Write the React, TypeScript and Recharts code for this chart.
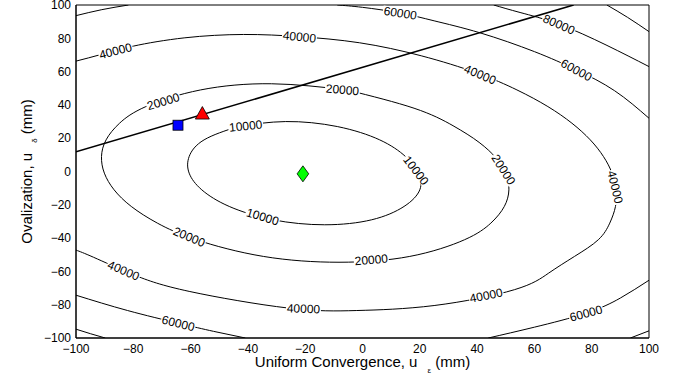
import { ScatterChart, Scatter, XAxis, YAxis, ReferenceArea } from "recharts";

type Pt = { x: number; y: number };

const WIDTH = 678;
const HEIGHT = 381;
const MARGIN = { top: 5, right: 29, bottom: 13, left: 6 };
const Y_AXIS_W = 70;
const X_AXIS_H = 30;
const PLOT_W = WIDTH - MARGIN.left - MARGIN.right - Y_AXIS_W;
const PLOT_H = HEIGHT - MARGIN.top - MARGIN.bottom - X_AXIS_H;
const KX = PLOT_W / 200;
const KY = PLOT_H / 200;
const FONT = "'Liberation Sans', Arial, Helvetica, sans-serif";

const TICKS = [-100, -80, -60, -40, -20, 0, 20, 40, 60, 80, 100];

// contour lines
const c10000: Pt[] = [
  { x: -43.5, y: 27 }, { x: -26.8, y: 30 }, { x: -8.8, y: 27 }, { x: 6, y: 19 },
  { x: 15, y: 9 }, { x: 19.5, y: -1 }, { x: 20, y: -11 }, { x: 14.5, y: -21 },
  { x: 3.2, y: -29 }, { x: -13.2, y: -32 }, { x: -31.2, y: -29 }, { x: -46.5, y: -21 },
  { x: -56.1, y: -11 }, { x: -60.5, y: -1 }, { x: -60.5, y: 9 }, { x: -55.3, y: 19 },
  { x: -43.5, y: 27 },
];

const c20000: Pt[] = [
  { x: -5.4, y: 49 }, { x: 18, y: 38 }, { x: 31.6, y: 27.5 }, { x: 40.7, y: 17.5 },
  { x: 46.7, y: 8 }, { x: 50.1, y: -1 }, { x: 51.1, y: -11 }, { x: 49.5, y: -21 },
  { x: 44.8, y: -31 }, { x: 35.6, y: -41 }, { x: 16.5, y: -51 }, { x: -8.2, y: -54.5 },
  { x: -34.6, y: -51 }, { x: -58, y: -41 }, { x: -71.6, y: -31 }, { x: -80.7, y: -21 },
  { x: -86.7, y: -11 }, { x: -90.1, y: -1 }, { x: -91.1, y: 9 }, { x: -89.5, y: 19 },
  { x: -84.8, y: 29 }, { x: -75.6, y: 39 }, { x: -56.5, y: 49 }, { x: -31.8, y: 52.7 },
  { x: -5.4, y: 49 },
];

const c40000: Pt[] = [
  { x: -100, y: 66.3 }, { x: -91.2, y: 70.3 }, { x: -80, y: 75.3 }, { x: -62, y: 80.3 },
  { x: -41.5, y: 82.3 }, { x: -22, y: 81 }, { x: -1, y: 77.3 }, { x: 20.5, y: 69.5 },
  { x: 39.9, y: 59.2 }, { x: 53.9, y: 49 }, { x: 64.7, y: 39 }, { x: 73.1, y: 29 },
  { x: 79.5, y: 19 }, { x: 84.1, y: 9 }, { x: 87.1, y: -1 }, { x: 88.5, y: -11 },
  { x: 88.3, y: -21 }, { x: 86.3, y: -31 }, { x: 82.3, y: -41 }, { x: 74, y: -51 },
  { x: 65, y: -61 }, { x: 53, y: -71 }, { x: 25, y: -80.5 }, { x: -2, y: -83.5 },
  { x: -26, y: -82 }, { x: -60.5, y: -72 }, { x: -79.9, y: -62 }, { x: -93.9, y: -51.5 },
  { x: -100, y: -47.2 },
];

const c60000TopLeft: Pt[] = [{ x: -100, y: 93.6 }, { x: -91, y: 97.2 }, { x: -81.7, y: 100 }];
const c60000TopRight: Pt[] = [
  { x: -8.8, y: 100 }, { x: 0, y: 98.6 }, { x: 13.2, y: 95.2 }, { x: 25, y: 90.5 },
  { x: 41, y: 83.3 }, { x: 60, y: 72 }, { x: 74.7, y: 61 }, { x: 88, y: 48.5 },
  { x: 100, y: 32 },
];
const c60000BottomLeft: Pt[] = [
  { x: -100, y: -74.3 }, { x: -82, y: -83.5 }, { x: -64.3, y: -91.1 }, { x: -52, y: -96 },
  { x: -40.9, y: -100 },
];
const c60000BottomRight: Pt[] = [
  { x: 43.9, y: -100 }, { x: 60, y: -93.5 }, { x: 78, y: -85.1 }, { x: 90, y: -76 },
  { x: 100, y: -65.3 },
];
const c80000TopRight: Pt[] = [
  { x: 45.8, y: 100 }, { x: 55, y: 95.5 }, { x: 68.5, y: 88.5 }, { x: 85, y: 76 },
  { x: 100, y: 63 },
];
const c80000BottomLeft: Pt[] = [{ x: -100, y: -94.7 }, { x: -95, y: -97.4 }, { x: -89.8, y: -100 }];
const c80000BottomRight: Pt[] = [{ x: 93.5, y: -100 }, { x: 100, y: -95.7 }];
const c100000TopRight: Pt[] = [{ x: 85.3, y: 100 }, { x: 92.5, y: 92.6 }, { x: 100, y: 84 }];

const contours = [
  { level: 10000, points: c10000 },
  { level: 20000, points: c20000 },
  { level: 40000, points: c40000 },
  { level: 60000, points: c60000TopLeft },
  { level: 60000, points: c60000TopRight },
  { level: 60000, points: c60000BottomLeft },
  { level: 60000, points: c60000BottomRight },
  { level: 80000, points: c80000TopRight },
  { level: 80000, points: c80000BottomLeft },
  { level: 80000, points: c80000BottomRight },
  { level: 100000, points: c100000TopRight },
];

const contourLabels = [
  { level: 40000, x: -86.3, y: 73 },
  { level: 40000, x: -22, y: 80.9 },
  { level: 20000, x: -69.8, y: 43.5 },
  { level: 10000, x: -40.8, y: 27.9 },
  { level: 20000, x: -7, y: 48.9 },
  { level: 60000, x: 13.2, y: 95.2 },
  { level: 80000, x: 68.7, y: 88.9 },
  { level: 40000, x: 41.1, y: 58.5 },
  { level: 60000, x: 74.7, y: 60.9 },
  { level: 10000, x: 17.8, y: -0.5 },
  { level: 20000, x: 48.2, y: 0 },
  { level: 40000, x: 88.3, y: -9.3 },
  { level: 10000, x: -34.9, y: -27.4 },
  { level: 20000, x: -60.7, y: -40 },
  { level: 40000, x: -83.5, y: -59.9 },
  { level: 60000, x: -64.3, y: -91.1 },
  { level: 40000, x: -20.6, y: -82.7 },
  { level: 20000, x: 3.1, y: -53.8 },
  { level: 40000, x: 43.2, y: -74.9 },
  { level: 60000, x: 78, y: -85.1 },
];

const constraintLine: Pt[] = [{ x: -100, y: 11.8 }, { x: 73.7, y: 100 }];
const squarePoint: Pt[] = [{ x: -64.4, y: 27.8 }];
const trianglePoint: Pt[] = [{ x: -55.9, y: 35.1 }];
const diamondPoint: Pt[] = [{ x: -20.8, y: -1.4 }];

const fmt = (v: number) => String(v).replace("-", "\u2212");

// snap a label onto its contour and take the contour direction (screen space)
function fitToContour(level: number, x: number, y: number) {
  const px = x * KX;
  const py = -y * KY;
  let best = { d: Infinity, ox: 0, oy: 0, angle: 0 };
  contours
    .filter((c) => c.level === level)
    .forEach((c) => {
      for (let i = 0; i < c.points.length - 1; i++) {
        const ax = c.points[i].x * KX;
        const ay = -c.points[i].y * KY;
        const bx = c.points[i + 1].x * KX;
        const by = -c.points[i + 1].y * KY;
        const dx = bx - ax;
        const dy = by - ay;
        const len2 = dx * dx + dy * dy || 1;
        let t = ((px - ax) * dx + (py - ay) * dy) / len2;
        t = Math.max(0, Math.min(1, t));
        const qx = ax + t * dx;
        const qy = ay + t * dy;
        const d = (qx - px) ** 2 + (qy - py) ** 2;
        if (d < best.d) {
          best = { d, ox: qx - px, oy: qy - py, angle: (Math.atan2(dy, dx) * 180) / Math.PI };
        }
      }
    });
  let a = best.angle;
  if (a > 90) a -= 180;
  if (a < -90) a += 180;
  return { ox: best.ox, oy: best.oy, angle: a };
}

const NoDot = () => <g />;

function ContourLabel(props: any) {
  const { cx, cy, payload } = props;
  if (cx == null || cy == null) return <g />;
  const fit = fitToContour(payload.level, payload.x, payload.y);
  return (
    <g transform={`translate(${cx + fit.ox},${cy + fit.oy}) rotate(${fit.angle})`}>
      <rect x={-17.5} y={-5} width={35} height={10} fill="#fff" />
      <text x={0} y={0} dy="0.36em" textAnchor="middle" fontSize={12} fontFamily={FONT} fill="#000">
        {payload.level}
      </text>
    </g>
  );
}

const Square = (props: any) => (
  <rect x={props.cx - 5} y={props.cy - 5} width={10} height={10} fill="#0000ff" stroke="#000" strokeWidth={0.8} />
);

const Triangle = (props: any) => {
  const { cx, cy } = props;
  return (
    <polygon
      points={`${cx - 7},${cy + 6} ${cx + 7},${cy + 6} ${cx},${cy - 6.5}`}
      fill="#ff0000"
      stroke="#000"
      strokeWidth={0.8}
    />
  );
};

const Diamond = (props: any) => {
  const { cx, cy } = props;
  return (
    <polygon
      points={`${cx},${cy - 8} ${cx + 5.8},${cy} ${cx},${cy + 8} ${cx - 5.8},${cy}`}
      fill="#00ff00"
      stroke="#000"
      strokeWidth={0.8}
    />
  );
};

const XTitle = () => (
  <text x={MARGIN.left + Y_AXIS_W + PLOT_W / 2} y={367} textAnchor="middle" fontSize={15} fontFamily={FONT} fill="#000">
    Uniform Convergence, u
    <tspan dx={10} dy={6} fontSize={8}>ε</tspan>
    <tspan dy={-6} fontSize={15}> (mm)</tspan>
  </text>
);

const YTitle = () => {
  const cx = 32;
  const cy = MARGIN.top + PLOT_H / 2;
  return (
    <text
      x={cx}
      y={cy}
      transform={`rotate(-90 ${cx} ${cy})`}
      textAnchor="middle"
      fontSize={15}
      fontFamily={FONT}
      fill="#000"
    >
      Ovalization, u
      <tspan dx={10} dy={5} fontSize={8}>δ</tspan>
      <tspan dy={-5} fontSize={15}> (mm)</tspan>
    </text>
  );
};

export default function App() {
  const tickStyle = { fill: "#000", fontSize: 12, fontFamily: FONT };
  return (
    <div style={{ position: "absolute", left: 0, top: 0, width: WIDTH, height: HEIGHT, background: "#fff" }}>
      <ScatterChart width={WIDTH} height={HEIGHT} margin={MARGIN}>
        <XAxis
          type="number"
          dataKey="x"
          domain={[-100, 100]}
          ticks={TICKS}
          interval={0}
          allowDataOverflow
          height={X_AXIS_H}
          tickLine={false}
          tickSize={0}
          tickMargin={6}
          axisLine={{ stroke: "#000" }}
          tick={tickStyle}
          tickFormatter={fmt}
          label={XTitle}
        />
        <YAxis
          type="number"
          dataKey="y"
          domain={[-100, 100]}
          ticks={TICKS}
          interval={0}
          allowDataOverflow
          width={Y_AXIS_W}
          tickLine={false}
          tickSize={0}
          tickMargin={5}
          axisLine={{ stroke: "#000" }}
          tick={tickStyle}
          tickFormatter={fmt}
          label={YTitle}
        />
        {contours.map((c, i) => (
          <Scatter
            key={`c${i}`}
            data={c.points}
            line={{ stroke: "#000", strokeWidth: 1, fill: "none" }}
            lineJointType="natural"
            shape={NoDot}
            isAnimationActive={false}
          />
        ))}
        <Scatter data={contourLabels} shape={ContourLabel} isAnimationActive={false} />
        <Scatter
          data={constraintLine}
          line={{ stroke: "#000", strokeWidth: 1.6, fill: "none" }}
          shape={NoDot}
          isAnimationActive={false}
        />
        <Scatter data={squarePoint} shape={Square} isAnimationActive={false} />
        <Scatter data={trianglePoint} shape={Triangle} isAnimationActive={false} />
        <Scatter data={diamondPoint} shape={Diamond} isAnimationActive={false} />
        <ReferenceArea x1={-100} x2={100} y1={-100} y2={100} fill="none" fillOpacity={0} stroke="#000" strokeWidth={1} />
      </ScatterChart>
    </div>
  );
}
